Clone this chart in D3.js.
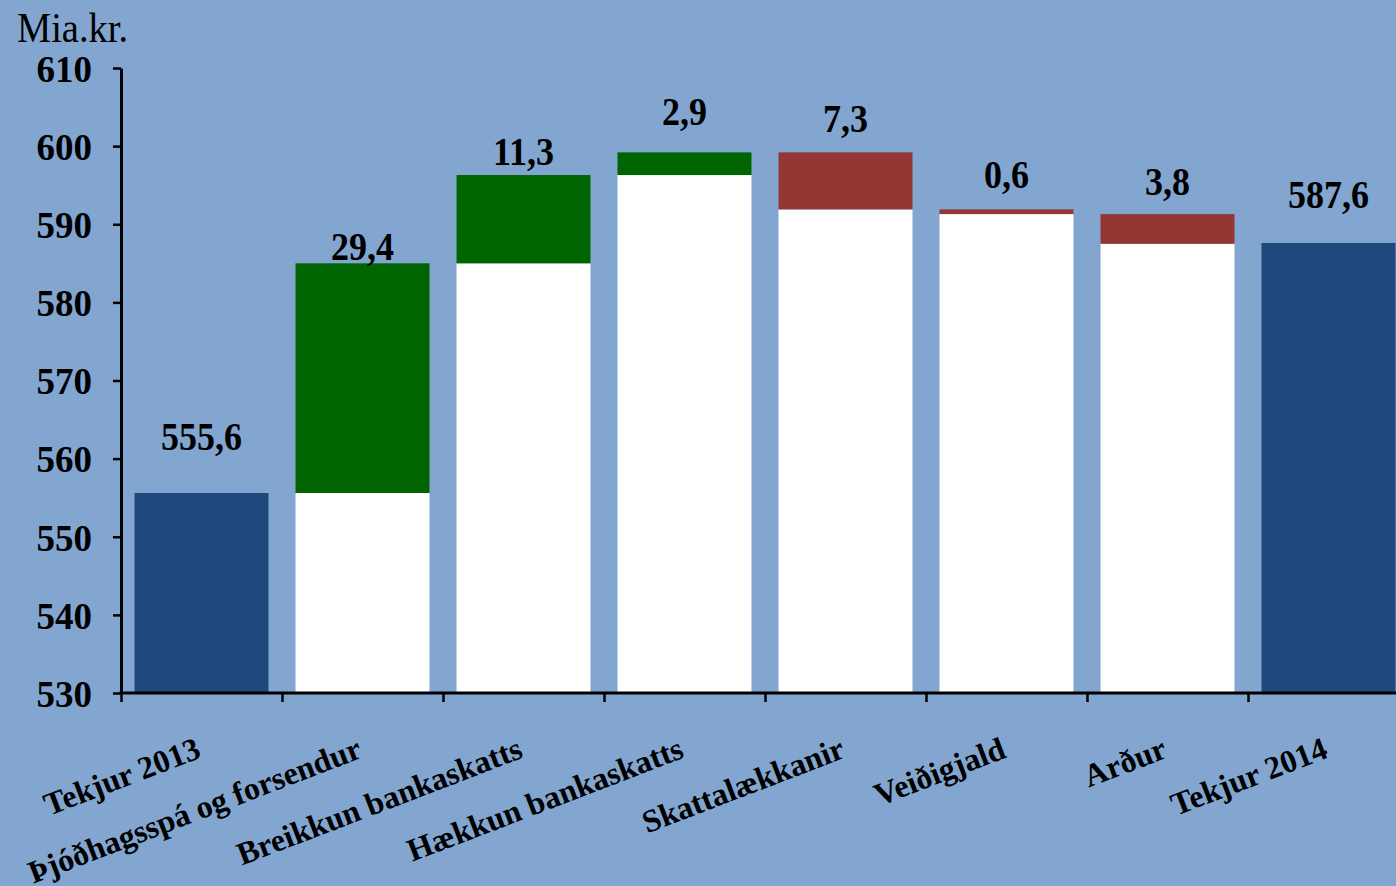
<!DOCTYPE html>
<html><head><meta charset="utf-8">
<script src="https://cdn.jsdelivr.net/npm/d3@7"></script>
<style>
html,body{margin:0;padding:0;background:#82A6D0;}
svg{display:block;}
text{font-family:"Liberation Serif","Times New Roman",serif;}
</style></head>
<body>
<svg id="chart" width="1396" height="886"></svg>
<script>
// ---- data ----
const categories = ["Tekjur 2013","Þjóðhagsspá og forsendur","Breikkun bankaskatts","Hækkun bankaskatts","Skattalækkanir","Veiðigjald","Arður","Tekjur 2014"];
const kinds      = ["total","up","up","up","down","down","down","total"];
const values     = [555.6, 29.4, 11.3, 2.9, 7.3, 0.6, 3.8, 587.6];
const labelAt    = [561.1, 585.4, 597.6, 602.7, 601.8, 594.6, 593.7, 592.1]; // value level of label baseline
const yTicks     = [530,540,550,560,570,580,590,600,610];
const yUnit      = "Mia.kr.";

const colors = {total:"#1F497D", up:"#006400", down:"#943634", base:"#FFFFFF"};

const svg = d3.select("#chart");
svg.append("rect").attr("width",1396).attr("height",886).attr("fill","#82A6D0");

const x0 = 121, yTop = 68, yBot = 693, step = 161;
const x = d3.scaleBand().domain(categories)
  .range([x0, x0 + step*categories.length])
  .paddingInner(0.168).paddingOuter(0.084);
const y = d3.scaleLinear().domain([530,610]).range([yBot, yTop]);

// compute segments
let level = 0;
const segs = [];
categories.forEach((c,i)=>{
  const k = kinds[i], v = values[i];
  if (k === "total") {
    segs.push({c, y0:530, y1:v, fill:colors.total});
    level = v;
  } else if (k === "up") {
    segs.push({c, y0:530, y1:level, fill:colors.base});
    segs.push({c, y0:level, y1:level+v, fill:colors.up});
    level += v;
  } else {
    segs.push({c, y0:530, y1:level-v, fill:colors.base});
    segs.push({c, y0:level-v, y1:level, fill:colors.down});
    level -= v;
  }
});

svg.append("g").selectAll("rect").data(segs).join("rect")
  .attr("x", d=>x(d.c)).attr("width", x.bandwidth())
  .attr("y", d=>y(d.y1)).attr("height", d=>y(d.y0)-y(d.y1))
  .attr("fill", d=>d.fill);

// data labels
const fmt = d3.formatLocale({decimal:",", thousands:".", grouping:[3], currency:["",""]}).format(".1f");
svg.append("g").selectAll("text").data(categories).join("text")
  .attr("transform", (d,i)=>`translate(${x(d)+x.bandwidth()/2},${y(labelAt[i])}) scale(0.9,1)`)
  .attr("text-anchor","middle")
  .attr("font-size",40).attr("font-weight","bold").attr("fill","#000")
  .text((d,i)=>fmt(values[i]));

// y axis
const yAxis = d3.axisLeft(y).tickValues(yTicks).tickSize(8).tickSizeOuter(0).tickPadding(21)
  .tickFormat(d3.format("d"));
const gy = svg.append("g").attr("transform",`translate(${x0},0)`).call(yAxis);
gy.select(".domain").attr("stroke","#000").attr("stroke-width",3);
gy.selectAll(".tick line").attr("stroke","#000").attr("stroke-width",2.5);
gy.selectAll(".tick text").attr("font-size",37).attr("font-weight","bold")
  .attr("font-family",'"Liberation Serif","Times New Roman",serif').attr("fill","#000").attr("dy","0.36em");

// x axis line and ticks at band boundaries
const gx = svg.append("g");
gx.append("line").attr("x1",x0-1.5).attr("x2",1396).attr("y1",yBot).attr("y2",yBot)
  .attr("stroke","#000").attr("stroke-width",3);
gx.selectAll("line.tk").data(categories).join("line").attr("class","tk")
  .attr("x1", d=>x(d)-x.step()*x.paddingOuter()+0.5)
  .attr("x2", d=>x(d)-x.step()*x.paddingOuter()+0.5)
  .attr("y1",yBot).attr("y2",yBot+9).attr("stroke","#000").attr("stroke-width",2.5);

gx.selectAll("text").data(categories).join("text")
  .attr("transform", d=>`translate(${x(d)+x.bandwidth()/2+1},757) rotate(-21)`)
  .attr("text-anchor","end")
  .attr("font-size",32).attr("font-weight","bold").attr("fill","#000")
  .text(d=>d);

// unit label
svg.append("text").attr("x",17).attr("y",42).attr("font-size",43).attr("fill","#000")
  .attr("textLength",111).attr("lengthAdjust","spacingAndGlyphs")
  .text(yUnit);
</script>
</body></html>
